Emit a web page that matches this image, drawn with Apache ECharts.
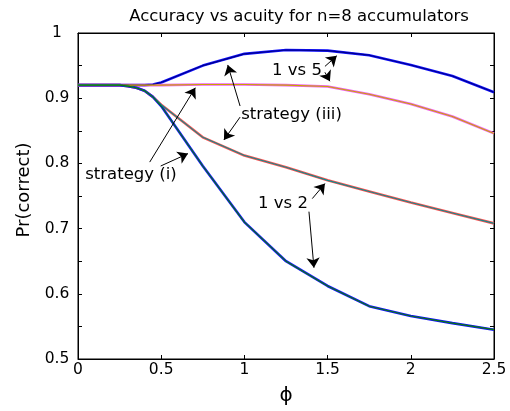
<!DOCTYPE html>
<html>
<head>
<meta charset="utf-8">
<script src="https://cdn.jsdelivr.net/npm/echarts@6/dist/echarts.min.js"></script>
<style>html,body{margin:0;padding:0;background:#fff}#c{width:510px;height:411px}</style>
</head>
<body>
<div id="c"></div>
<script>
// ---- data ----
const phi          = [0, 0.25, 0.3, 0.35, 0.4, 0.45, 0.5, 0.75, 1, 1.25, 1.5, 1.75, 2, 2.25, 2.5];
const vs5StratIII  = [0.92, 0.92, 0.92, 0.92, 0.92, 0.921, 0.924, 0.950, 0.968, 0.974, 0.973, 0.966, 0.951, 0.934, 0.909];
const vs5StratI    = [0.92, 0.92, 0.92, 0.92, 0.92, 0.92, 0.92, 0.921, 0.921, 0.92, 0.918, 0.906, 0.891, 0.872, 0.846];
const vs2StratIII  = [0.92, 0.92, 0.9185, 0.916, 0.9115, 0.902, 0.89, 0.84, 0.812, 0.794, 0.774, 0.757, 0.740, 0.724, 0.708];
const vs2StratI    = [0.92, 0.92, 0.9185, 0.916, 0.9115, 0.902, 0.888, 0.796, 0.71, 0.65, 0.612, 0.581, 0.566, 0.555, 0.545];
const xTickValues  = [0, 0.5, 1, 1.5, 2, 2.5];
const yLabelValues = [0.5, 0.6, 0.7, 0.8, 0.9, 1];

// annotations (data coordinates)
const annotTexts = ['1 vs 5', 'strategy (iii)', 'strategy (i)', '1 vs 2'];
const annotAt    = [[1.316, 0.9427], [1.283, 0.8754], [0.3185, 0.783], [1.232, 0.7386]];
const arrowFrom  = [[1.484, 0.9488], [1.484, 0.9397], [0.974, 0.888], [0.974, 0.871], [0.431, 0.802], [0.497, 0.796], [1.408, 0.746], [1.388, 0.726]];
const arrowTo    = [[1.555, 0.965], [1.514, 0.926], [0.900, 0.951], [0.877, 0.836], [0.705, 0.916], [0.661, 0.815], [1.484, 0.769], [1.418, 0.640]];

const FONT = 'DejaVu Sans';
const pair = ys => phi.map((x, i) => [x, ys[i]]);

const curves = [
  {ys: vs5StratIII, outer: '#1010ff', inner: '#00008b'},
  {ys: vs5StratI,   outer: '#f060f0', inner: '#c8a400'},
  {ys: vs2StratIII, outer: '#ff5050', inner: '#108c8c'},
  {ys: vs2StratI,   outer: '#1010ff', inner: '#0a7a0a'}
];

const series = [];
curves.forEach(c => {
  series.push({type: 'line', data: pair(c.ys), showSymbol: false, symbol: 'none',
    lineStyle: {color: c.outer, width: 2.6}, silent: true, z: 2});
  series.push({type: 'line', data: pair(c.ys), showSymbol: false, symbol: 'none',
    lineStyle: {color: c.inner, width: 1.1}, silent: true, z: 3});
});
series.push({
  type: 'scatter', symbolSize: 0, silent: true, z: 5,
  itemStyle: {opacity: 1, color: '#000'},
  data: annotAt.map((p, i) => ({value: p, label: {formatter: annotTexts[i]}})),
  label: {show: true, position: [0, 0], align: 'center', verticalAlign: 'middle',
    color: '#000', opacity: 1, textBorderWidth: 0, fontSize: 16.5, fontFamily: FONT},
  markLine: {
    silent: true, animation: false, symbol: ['none', 'arrow'], symbolSize: 10,
    lineStyle: {color: '#000', width: 1, type: 'solid', opacity: 1},
    itemStyle: {color: '#000', opacity: 1},
    label: {show: false},
    data: arrowFrom.map((a, i) => [{coord: a}, {coord: arrowTo[i]}])
  }
});

const isLabelTick = v => yLabelValues.some(t => Math.abs(t - v) < 1e-6);
const axisCommon = () => ({
  axisLine: {show: true, onZero: false, lineStyle: {color: '#000', width: 1}},
  axisTick: {show: true, inside: true, length: 4, lineStyle: {color: '#000', width: 1}},
  splitLine: {show: false}
});

const chart = echarts.init(document.getElementById('c'), null, {renderer: 'canvas'});
chart.setOption({
  animation: false,
  backgroundColor: '#fff',
  title: {
    text: 'Accuracy vs acuity for n=8 accumulators',
    left: 294, top: 3, textAlign: 'center',
    textStyle: {fontSize: 16.5, fontWeight: 'normal', color: '#000', fontFamily: FONT}
  },
  grid: {left: 78, right: 16, top: 33, bottom: 49, containLabel: false,
    show: true, borderColor: '#000', borderWidth: 1, backgroundColor: 'transparent'},
  xAxis: [
    Object.assign(axisCommon(), {
      type: 'value', min: 0, max: 2.5, interval: 0.5, position: 'bottom',
      axisLabel: {color: '#000', fontSize: 15.5, fontFamily: FONT, margin: 3,
        formatter: v => xTickValues.some(t => Math.abs(t - v) < 1e-6) ? String(v) : ''},
      name: 'ϕ', nameLocation: 'middle', nameGap: 27,
      nameTextStyle: {fontSize: 20, color: '#000', fontFamily: FONT}
    }),
    Object.assign(axisCommon(), {
      type: 'value', min: 0, max: 2.5, interval: 0.5, position: 'top',
      axisLabel: {show: false}
    })
  ],
  yAxis: [
    Object.assign(axisCommon(), {
      type: 'value', min: 0.5, max: 1, interval: 0.05, position: 'left',
      axisLabel: {color: '#000', fontSize: 15.5, fontFamily: FONT, margin: 21, align: 'center',
        formatter: v => isLabelTick(v) ? String(Math.round(v * 10) / 10) : ''},
      name: 'Pr(correct)', nameLocation: 'middle', nameGap: 45, nameRotate: 90,
      nameTextStyle: {fontSize: 18, color: '#000', fontFamily: FONT, padding: [0, 0, 0, 12]}
    }),
    Object.assign(axisCommon(), {
      type: 'value', min: 0.5, max: 1, interval: 0.05, position: 'right',
      axisLabel: {show: false}
    })
  ],
  series: series
});
</script>
</body>
</html>
